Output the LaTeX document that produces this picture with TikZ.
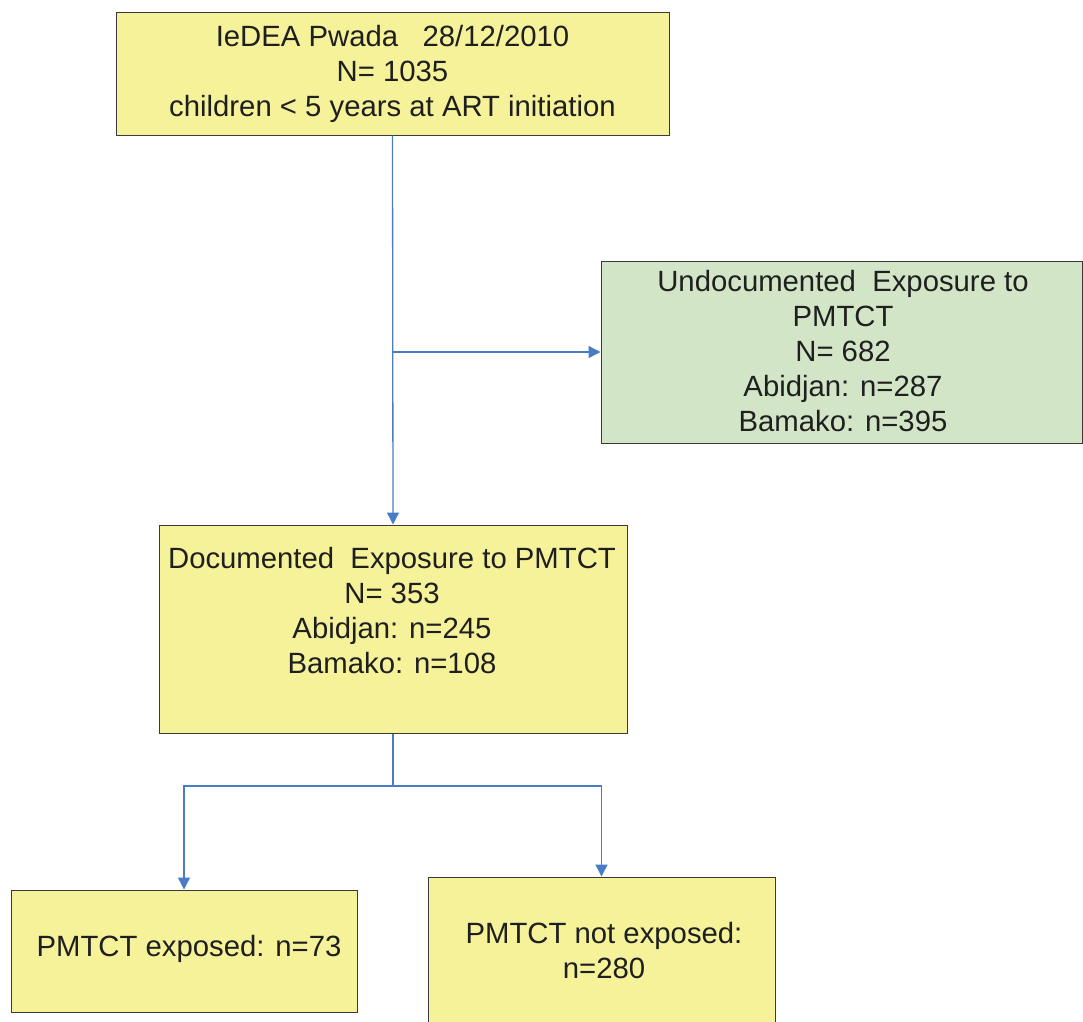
\documentclass[tikz,border=0pt]{standalone}
\usepackage{fontspec}
\setmainfont{Liberation Sans}
\usetikzlibrary{arrows.meta}
\definecolor{boxyellow}{HTML}{F5F29A}
\definecolor{boxgreen}{HTML}{D3E5C7}
\definecolor{linkblue}{HTML}{4A7CC6}
\definecolor{edgegray}{HTML}{3A3A3A}
\begin{document}
\begin{tikzpicture}[x=1pt,y=-1pt,
  box/.style={draw=edgegray, line width=1pt, inner sep=0pt},
  lbl/.style={align=center, inner sep=0pt, font=\fontsize{29.3}{35}\selectfont, text=black!88},
  link/.style={draw=linkblue, line width=1.3pt},
  tip/.style={-{Triangle[length=12pt,width=12pt]}}]
\useasboundingbox (0,0) rectangle (1083,1021);
\clip (0,0) rectangle (1083,1021);

% boxes
\node[box, fill=boxyellow, minimum width=553pt, minimum height=123pt] (top) at (392.5,73.5) {};
\node[box, fill=boxgreen, minimum width=481pt, minimum height=182pt] (undoc) at (841.5,352) {};
\node[box, fill=boxyellow, minimum width=468pt, minimum height=208pt] (doc) at (393,629) {};
\node[box, fill=boxyellow, minimum width=346pt, minimum height=122pt] (exp) at (184,951) {};
\node[box, fill=boxyellow, minimum width=347pt, minimum height=150pt] (nexp) at (601.5,952) {};

% texts
\node[lbl] (topl) at (392.5,74) {IeDEA Pwada\ \ \ 28/12/2010\\N= 1035\\children < 5 years at ART initiation};
\node[lbl] (undocl) at (843,351) {Undocumented\ \ Exposure to\\PMTCT\\N= 682\\Abidjan: n=287\\Bamako: n=395};
\node[lbl] (docl) at (392,611) {Documented\ \ Exposure to PMTCT\\N= 353\\Abidjan: n=245\\Bamako: n=108};
\node[lbl] (expl) at (189,949) {PMTCT exposed: n=73};
\node[lbl] (nexpl) at (604,951) {PMTCT not exposed:\\n=280};

% connectors
\coordinate (split1) at (393,352);
\coordinate (split2) at (393,786);
\draw[link,tip] (top.south) -- (doc.north);
\draw[link,tip] (split1) -- (undoc.west);
\draw[link] (doc.south) -- (split2);
\draw[link,tip] (split2) -| (exp.north);
\draw[link,tip] (split2) -| (nexp.north);
\end{tikzpicture}
\end{document}
